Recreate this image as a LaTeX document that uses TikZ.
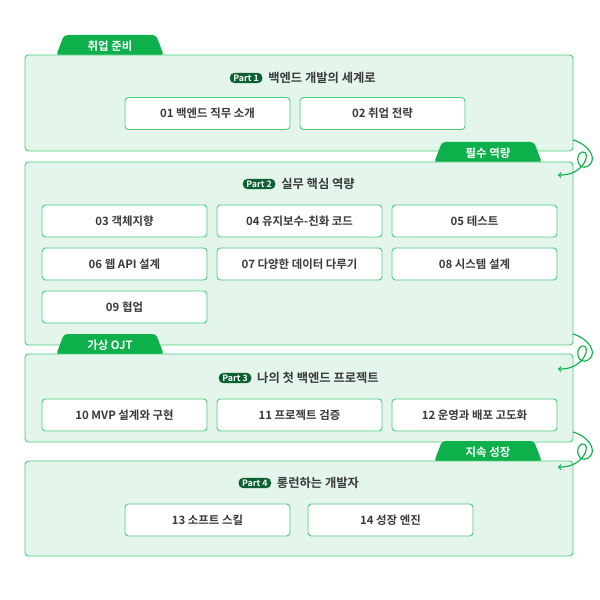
\documentclass[tikz,border=0pt]{standalone}
\usepackage{fontspec}
\setmainfont{Noto Sans CJK KR}[BoldFont={Noto Sans CJK KR Bold}]
\usetikzlibrary{positioning}
\definecolor{panelfill}{HTML}{E4F6EB}
\definecolor{panelline}{HTML}{4CCB7C}
\definecolor{tabgreen}{HTML}{0EB04C}
\definecolor{pilldark}{HTML}{0B6131}
\definecolor{txtgray}{HTML}{3A3A3A}
\tikzset{
  panel/.style={draw=panelline,fill=panelfill,line width=1pt,rounded corners=4pt},
  item/.style={draw=panelline,fill=white,line width=1pt,rounded corners=4pt,minimum width=6.6cm,minimum height=1.28cm,font=\bfseries\fontsize{13}{13}\selectfont,text=txtgray},
  pill/.style={fill=pilldark,text=white,rounded corners=5pt,inner sep=2pt,inner xsep=4pt,font=\bfseries\fontsize{10}{10}\selectfont},
  ttl/.style={font=\bfseries\fontsize{14}{14}\selectfont,text=txtgray},
  tab/.style={fill=tabgreen},
  tabtxt/.style={text=white,font=\bfseries\fontsize{13}{13}\selectfont},
  loop/.style={draw=tabgreen,line width=1.3pt,->,>=to}
}
\begin{document}
\begin{tikzpicture}[x=0.04cm,y=-0.04cm]
\useasboundingbox (0,0) rectangle (600,600);
% panels with their tabs
\fill[tab,rounded corners=4pt] (56,56) -- (64,35) -- (156,35) -- (164,56) -- cycle;
\draw[panel] (25,55) rectangle (573,151);
\fill[tab,rounded corners=4pt] (434,163) -- (442,142) -- (534,142) -- (542,163) -- cycle;
\draw[panel] (25,162) rectangle (573,345);
\fill[tab,rounded corners=4pt] (56,355) -- (64,334) -- (156,334) -- (164,355) -- cycle;
\draw[panel] (25,354) rectangle (573,442);
\fill[tab,rounded corners=4pt] (434,462) -- (442,441) -- (534,441) -- (542,462) -- cycle;
\draw[panel] (25,461) rectangle (573,556);
\node[tabtxt] (t1) at (110,46) {취업 준비};
\node[tabtxt] (t2) at (488,153) {필수 역량};
\node[tabtxt] (t3) at (110,345) {가상 OJT};
\node[tabtxt] (t4) at (488,452) {지속 성장};
% loops
\draw[loop] (573,140) .. controls (590,145) and (598,160) .. (588,166) .. controls (578,172) and (574,155) .. (582,152) .. controls (592,150) and (585,176) .. (558,175);
\draw[loop] (573,334) .. controls (590,339) and (598,354) .. (588,360) .. controls (578,366) and (574,349) .. (582,346) .. controls (592,344) and (585,370) .. (558,369);
\draw[loop] (573,432) .. controls (590,437) and (598,452) .. (588,458) .. controls (578,464) and (574,447) .. (582,444) .. controls (592,442) and (585,468) .. (558,467);
% titles
\node[ttl] (h1) at (322,78) {백엔드 개발의 세계로};
\node[pill,left=3pt of h1] (p1) {Part 1};
\node[ttl] (h2) at (318,184) {실무 핵심 역량};
\node[pill,left=3pt of h2] (p2) {Part 2};
\node[ttl] (h3) at (318,378) {나의 첫 백엔드 프로젝트};
\node[pill,left=3pt of h3] (p3) {Part 3};
\node[ttl] (h4) at (318,483) {롱런하는 개발자};
\node[pill,left=3pt of h4] (p4) {Part 4};
% items
\node[item] (i01) at (207.5,113.5) {01 백엔드 직무 소개};
\node[item] (i02) at (382.5,113.5) {02 취업 전략};
\node[item] (i03) at (124.5,221) {03 객체지향};
\node[item] (i04) at (299.5,221) {04 유지보수-친화 코드};
\node[item] (i05) at (474.5,221) {05 테스트};
\node[item] (i06) at (124.5,264) {06 웹 API 설계};
\node[item] (i07) at (299.5,264) {07 다양한 데이터 다루기};
\node[item] (i08) at (474.5,264) {08 시스템 설계};
\node[item] (i09) at (124.5,307) {09 협업};
\node[item] (i10) at (124.5,415) {10 MVP 설계와 구현};
\node[item] (i11) at (299.5,415) {11 프로젝트 검증};
\node[item] (i12) at (474.5,415) {12 운영과 배포 고도화};
\node[item] (i13) at (207.5,520) {13 소프트 스킬};
\node[item] (i14) at (390.5,520) {14 성장 엔진};
\end{tikzpicture}
\end{document}
